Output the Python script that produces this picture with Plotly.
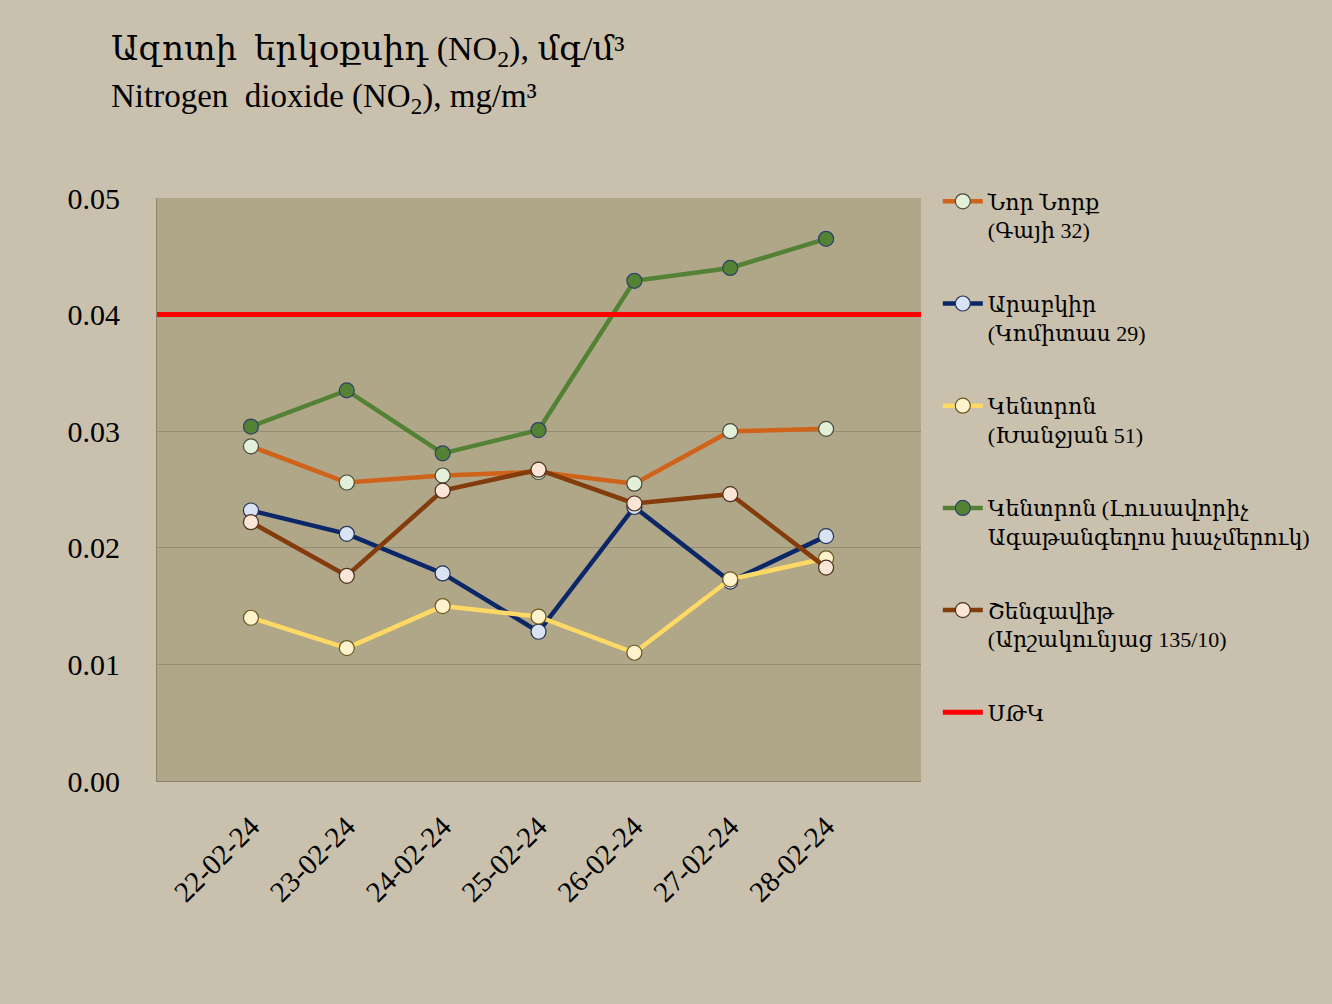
import plotly.graph_objects as go

dates = ["22-02-24", "23-02-24", "24-02-24", "25-02-24", "26-02-24", "27-02-24", "28-02-24"]

nor_nork = [0.0287, 0.0256, 0.0262, 0.0265, 0.0255, 0.0300, 0.0302]
arabkir = [0.0232, 0.0212, 0.0178, 0.0128, 0.0235, 0.0171, 0.0210]
kentron_khanjyan = [0.0140, 0.0114, 0.0150, 0.0141, 0.0110, 0.0173, 0.0191]
kentron_lusavorich = [0.0304, 0.0335, 0.0281, 0.0301, 0.0429, 0.0440, 0.0465]
shengavit = [0.0222, 0.0176, 0.0249, 0.0267, 0.0238, 0.0246, 0.0183]
mpc = 0.04

names = [
    "Նոր Նորք<br>(Գայի 32)",
    "Արաբկիր<br>(Կոմիտաս 29)",
    "Կենտրոն<br>(Խանջյան 51)",
    "Կենտրոն (Լուսավորիչ<br>Ագաթանգեղոս խաչմերուկ)",
    "Շենգավիթ<br>(Արշակունյաց 135/10)",
]
series = [nor_nork, arabkir, kentron_khanjyan, kentron_lusavorich, shengavit]
line_colors = ["#D0621A", "#0B2767", "#FFD966", "#548235", "#843C0C"]
marker_fills = ["#E2F0D9", "#DAE3F3", "#FFF2CC", "#548235", "#FBE5D6"]
marker_edges = ["#4a4a3a", "#26335a", "#6b5a20", "#2F3F6E", "#4a3020"]

font_main = "Liberation Serif, DejaVu Serif, serif"

fig = go.Figure()

for i, (nm, vals) in enumerate(zip(names, series)):
    fig.add_trace(go.Scatter(
        x=dates, y=vals, name=nm, mode="lines+markers",
        legendgroup=str(i),
        line=dict(color=line_colors[i], width=4.5),
        marker=dict(size=15, color=marker_fills[i],
                    line=dict(color=marker_edges[i], width=1.2)),
    ))

# MPC line spans the full plot width
fig.add_trace(go.Scatter(
    x=[-1, 7], y=[mpc, mpc], name="ՍԹԿ", mode="lines",
    legendgroup="mpc", line=dict(color="#FF0000", width=5),
    xaxis="x2",
))

fig.update_layout(
    width=1332, height=1004,
    paper_bgcolor="#C9C1AD",
    plot_bgcolor="#B0A688",
    margin=dict(l=157, r=411, t=198, b=223),
    font=dict(family=font_main, color="black", size=22),
    showlegend=True,
    legend=dict(
        x=1.022, y=1.03, xanchor="left", yanchor="top",
        bgcolor="rgba(0,0,0,0)", font=dict(size=22, family=font_main),
        tracegroupgap=42, itemwidth=40, valign="top", maxheight=800,
    ),
    xaxis=dict(
        type="category", categoryorder="array", categoryarray=dates,
        range=[-0.98, 6.99], showgrid=False, zeroline=False,
        tickangle=-45, tickfont=dict(size=29),
        showline=True, linecolor="#8C8470", linewidth=1,
        ticks="", ticklabelstandoff=16,
    ),
    xaxis2=dict(
        overlaying="x", range=[-0.98, 6.99], visible=False,
    ),
    yaxis=dict(
        range=[0, 0.05], dtick=0.01, tickformat=".2f",
        showgrid=True, gridcolor="#968D74", gridwidth=1,
        zeroline=False, showline=True, linecolor="#8C8470", linewidth=1,
        tickfont=dict(size=30), ticks="", ticklabelstandoff=30,
    ),
    annotations=[
        dict(text="Ազոտի  երկօքսիդ (NO<sub>2</sub>), մգ/մ³", xref="paper", yref="paper",
             x=-0.063, y=1.252, xanchor="left", yanchor="middle", showarrow=False,
             font=dict(size=34, family=font_main)),
        dict(text="Nitrogen  dioxide (NO<sub>2</sub>), mg/m³", xref="paper", yref="paper",
             x=-0.063, y=1.17, xanchor="left", yanchor="middle", showarrow=False,
             font=dict(size=33, family=font_main)),
    ],
)

fig.write_html("out.html", config={"displayModeBar": False},
               post_script="document.body.style.margin='0';")
